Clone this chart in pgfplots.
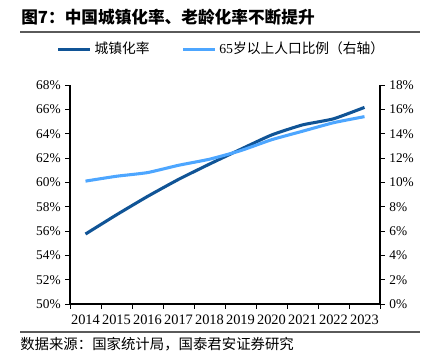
\documentclass[border=0pt]{standalone}
\usepackage{fontspec}
\setmainfont{Liberation Serif}
\newfontfamily\cjk{Noto Sans CJK SC}
\usepackage{pgfplots}
\pgfplotsset{compat=1.18}
\definecolor{dblue}{RGB}{16,84,150}
\definecolor{lblue}{RGB}{77,166,255}
\definecolor{rulegray}{RGB}{90,90,90}
\begin{document}
\begin{tikzpicture}[x=0.75pt,y=0.75pt]
\useasboundingbox (0,0) rectangle (436,356);
\node[anchor=base west, inner sep=0pt, font=\cjk\bfseries\fontsize{12.5}{14}\selectfont] at (21,356-24) {图7：中国城镇化率、老龄化率不断提升};
\draw[rulegray, line width=1.1pt] (20,356-32) -- (420,356-32);
\draw[rulegray, line width=0.8pt] (20,356-332) -- (420,356-332);
\node[anchor=west, inner sep=0pt, font=\cjk\fontsize{10.8}{12}\selectfont] at (20,356-344) {数据来源：国家统计局，国泰君安证券研究};
\begin{axis}[
  at={(52.5pt,39pt)}, anchor=south west, scale only axis,
  width=232.5pt, height=164.25pt,
  xmin=-0.5, xmax=9.5, ymin=50, ymax=68,
  ytick={50,52,...,68},
  yticklabel={\pgfmathprintnumber{\tick}\%},
  axis x line*=bottom, axis y line*=left,
  xtick={0,...,9},
  xticklabels={2014,2015,2016,2017,2018,2019,2020,2021,2022,2023},
  minor xtick={-0.5,0.5,...,9.5},
  major x tick style={draw=none},
  tick align=outside,
  major tick length=3.5pt, minor tick length=3.5pt,
  every tick/.style={black, line width=0.6pt},
  axis line style={black, line width=0.8pt},
  /pgf/number format/assume math mode=true,
  yticklabel style={font=\fontsize{10}{12}\selectfont},
  xticklabel style={font=\fontsize{10.8}{12}\selectfont, yshift=-1pt},
  legend style={draw=none, fill=none, at={(0.49,1.164)}, anchor=center,
    font=\cjk\fontsize{10.3}{12}\selectfont,
    /tikz/every even column/.append style={column sep=22pt}},
  legend columns=2,
  legend image code/.code={\draw[#1] (0pt,0pt) -- (24pt,0pt);},
]
\addplot[dblue, line width=2.3pt, smooth, tension=0.3] coordinates {
(0,55.75) (1,57.33) (2,58.84) (3,60.24) (4,61.50) (5,62.71) (6,63.89) (7,64.72) (8,65.22) (9,66.16)};
\addlegendentry{城镇化率}
\addlegendimage{lblue, line width=2.3pt}
\addlegendentry{\fontspec{Liberation Serif}65\cjk 岁以上人口比例（右轴）}
\end{axis}
\begin{axis}[
  at={(52.5pt,39pt)}, anchor=south west, scale only axis,
  width=232.5pt, height=164.25pt,
  xmin=-0.5, xmax=9.5, ymin=0, ymax=18,
  ytick={0,2,...,18},
  yticklabel={\pgfmathprintnumber{\tick}\%},
  axis x line=none, axis y line*=right,
  tick align=outside,
  major tick length=3.5pt,
  every tick/.style={black, line width=0.6pt},
  axis line style={black, line width=0.8pt},
  /pgf/number format/assume math mode=true,
  yticklabel style={font=\fontsize{10}{12}\selectfont},
]
\addplot[lblue, line width=2.3pt, smooth, tension=0.3] coordinates {
(0,10.1) (1,10.5) (2,10.8) (3,11.4) (4,11.9) (5,12.6) (6,13.5) (7,14.2) (8,14.9) (9,15.4)};
\end{axis}
\end{tikzpicture}
\end{document}
